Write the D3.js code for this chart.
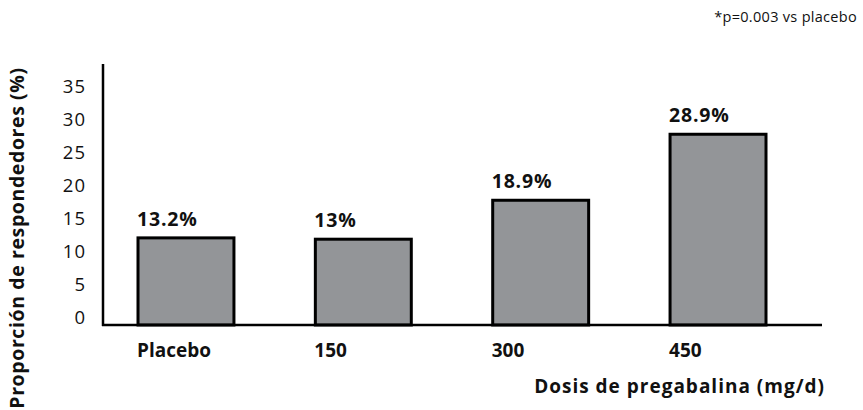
<!DOCTYPE html>
<html>
<head>
<meta charset="utf-8">
<script src="https://cdn.jsdelivr.net/npm/d3@7"></script>
<style>
  html, body { margin: 0; padding: 0; background: #fff; }
  svg { display: block; font-family: "Open Sans", "Noto Sans", sans-serif; }
</style>
</head>
<body>
<svg id="chart" width="863" height="410"></svg>
<script>
// Responder rate by pregabalin dose
const categories = ["Placebo", "150", "300", "450"];
const responders = [13.2, 13, 18.9, 28.9];
const valueLabels = ["13.2%", "13%", "18.9%", "28.9%"];
const yTicks = [0, 5, 10, 15, 20, 25, 30, 35];

const svg = d3.select("#chart");

const baseY = 325;
const y = d3.scaleLinear().domain([0, 35]).range([baseY, baseY - 35 * 6.6]);
const x = d3.scaleBand().domain(categories).range([138, 766])
  .paddingInner(0.459).paddingOuter(0);

// Bars
svg.append("g").selectAll("rect")
  .data(responders)
  .join("rect")
  .attr("x", (d, i) => x(categories[i]))
  .attr("y", d => y(d))
  .attr("width", x.bandwidth())
  .attr("height", d => baseY - y(d))
  .attr("fill", "#939598")
  .attr("stroke", "#000")
  .attr("stroke-width", 3);

// Value labels above bars
svg.append("g").selectAll("text")
  .data(responders)
  .join("text")
  .attr("x", (d, i) => x(categories[i]) - 1)
  .attr("y", d => y(d) - 12)
  .attr("font-size", 19.5)
  .attr("font-weight", 700)
  .attr("letter-spacing", 0.8)
  .attr("fill", "#111")
  .text((d, i) => valueLabels[i]);

// Axes
const axisG = svg.append("g");
axisG.append("line")
  .attr("x1", 103).attr("x2", 103)
  .attr("y1", 64).attr("y2", baseY + 1)
  .attr("stroke", "#000").attr("stroke-width", 2.5);
axisG.append("line")
  .attr("x1", 102).attr("x2", 822)
  .attr("y1", baseY).attr("y2", baseY)
  .attr("stroke", "#000").attr("stroke-width", 2.5);

// Y tick labels
svg.append("g").selectAll("text")
  .data(yTicks)
  .join("text")
  .attr("x", 86)
  .attr("y", d => y(d) - 8)
  .attr("dy", "0.36em")
  .attr("text-anchor", "end")
  .attr("font-size", 18.5)
  .attr("letter-spacing", 1)
  .attr("fill", "#111")
  .text(d => d);

// Category labels
svg.append("g").selectAll("text")
  .data(categories)
  .join("text")
  .attr("x", d => x(d) - 1)
  .attr("y", 357)
  .attr("font-size", 19)
  .attr("font-weight", 700)
  .attr("fill", "#111")
  .text(d => d);

// Axis titles
svg.append("text")
  .attr("transform", "translate(24,238) rotate(-90)")
  .attr("text-anchor", "middle")
  .attr("font-size", 19.5)
  .attr("font-weight", 700)
  .attr("letter-spacing", 0.6)
  .attr("fill", "#111")
  .text("Proporción de respondedores (%)");

svg.append("text")
  .attr("x", 825)
  .attr("y", 393)
  .attr("text-anchor", "end")
  .attr("font-size", 19)
  .attr("font-weight", 700)
  .attr("letter-spacing", 1)
  .attr("fill", "#111")
  .text("Dosis de pregabalina (mg/d)");

// Significance note
svg.append("text")
  .attr("x", 857)
  .attr("y", 22)
  .attr("text-anchor", "end")
  .attr("font-size", 14.5)
  .attr("letter-spacing", 0.3)
  .attr("fill", "#111")
  .text("*p=0.003 vs placebo");
</script>
</body>
</html>
